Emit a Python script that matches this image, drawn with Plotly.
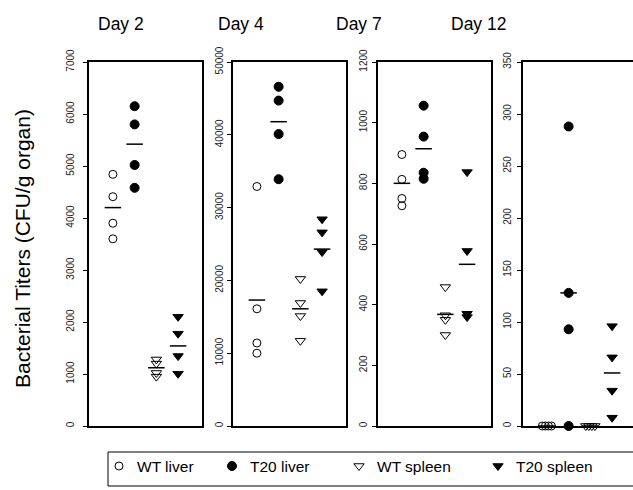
import plotly.graph_objects as go

# ---------------- data ----------------
days = ["Day 2", "Day 4", "Day 7", "Day 12"]
groups = ["WT liver", "T20 liver", "WT spleen", "T20 spleen"]

day2_wt_liver = [4840, 4410, 3900, 3600]
day2_t20_liver = [6150, 5800, 5020, 4580]
day2_wt_spleen = [1280, 1200, 1020, 950]
day2_t20_spleen = [2100, 1775, 1345, 1005]
day2_means = [4200, 5420, 1120, 1540]

day4_wt_liver = [32900, 16100, 11400, 10000]
day4_t20_liver = [46600, 44700, 40100, 33900]
day4_wt_spleen = [20200, 16900, 15100, 11700]
day4_t20_spleen = [28400, 26600, 23900, 18500]
day4_means = [17300, 41800, 16100, 24300]

day7_wt_liver = [895, 813, 750, 726]
day7_t20_liver = [1056, 954, 835, 815]
day7_wt_spleen = [458, 365, 350, 300]
day7_t20_spleen = [837, 577, 370, 359]
day7_means = [800, 914, 368, 533]

day12_wt_liver = [0, 0, 0, 0]
day12_t20_liver = [288, 128, 93, 0]
day12_wt_spleen = [0, 0, 0, 0]
day12_t20_spleen = [96, 66, 34, 8]
day12_means = [0, 128, 0, 51]

y_max = [7000, 50000, 1200, 350]
y_step = [1000, 10000, 200, 50]

panels = [
    [day2_wt_liver, day2_t20_liver, day2_wt_spleen, day2_t20_spleen],
    [day4_wt_liver, day4_t20_liver, day4_wt_spleen, day4_t20_spleen],
    [day7_wt_liver, day7_t20_liver, day7_wt_spleen, day7_t20_spleen],
    [day12_wt_liver, day12_t20_liver, day12_wt_spleen, day12_t20_spleen],
]
means = [day2_means, day4_means, day7_means, day12_means]

# ---------------- styling / layout ----------------
W, H = 633, 490
FONT = "Liberation Sans, Arial, Helvetica, sans-serif"
symbols = ["circle-open", "circle", "triangle-down-open", "triangle-down"]
sizes = [8, 9, 9, 9]
panel_left = [89, 233, 378, 523]
panel_right = [202, 346, 491, 633]
panel_top, panel_bottom = 62, 426
unit_px = 113 / 5.2
title_x = [121, 241, 359, 478]
standoff = [5, 0, 1, 2]
half_bar = 0.38


def offsets(vals):
    out = []
    for i, v in enumerate(vals):
        dup = [j for j, w in enumerate(vals) if w == v]
        n = len(dup)
        out.append((dup.index(i) - (n - 1) / 2) * 0.14)
    return out


fig = go.Figure()

for p, (pdata, pmeans) in enumerate(zip(panels, means)):
    ax = "" if p == 0 else str(p + 1)
    for g, vals in enumerate(pdata):
        xs = [g + 1 + o for o in offsets(vals)]
        fig.add_trace(go.Scatter(
            x=xs, y=vals, mode="markers", xaxis="x" + ax, yaxis="y" + ax,
            marker=dict(symbol=symbols[g], size=sizes[g], color="black",
                        line=dict(color="black", width=1)),
            cliponaxis=False, showlegend=False, hoverinfo="skip"))
    mx, my = [], []
    for g, m in enumerate(pmeans):
        mx += [g + 1 - half_bar, g + 1 + half_bar, None]
        my += [m, m, None]
    fig.add_trace(go.Scatter(
        x=mx, y=my, mode="lines", xaxis="x" + ax, yaxis="y" + ax,
        line=dict(color="black", width=1.5), cliponaxis=False,
        showlegend=False, hoverinfo="skip"))

    x0 = panel_left[p] / W
    x1 = panel_right[p] / W
    width_px = panel_right[p] - panel_left[p]
    fig.layout["xaxis" + ax] = dict(
        domain=[x0, x1], range=[-0.1, -0.1 + width_px / unit_px],
        showticklabels=False, ticks="", showgrid=False, zeroline=False,
        showline=True, mirror=True, linecolor="black", linewidth=1.5,
        automargin=False, anchor="y" + ax)
    fig.layout["yaxis" + ax] = dict(
        domain=[1 - panel_bottom / H, 1 - panel_top / H],
        range=[0, y_max[p]], tickmode="linear", tick0=0, dtick=y_step[p],
        tickformat="d", tickangle=-90, ticks="outside", ticklen=4,
        tickcolor="black", tickwidth=1, ticklabelstandoff=standoff[p],
        tickfont=dict(family=FONT, size=10, color="#222"),
        showgrid=False, zeroline=False, showline=True,
        mirror=(p != 3), linecolor="black", linewidth=1.5,
        automargin=False, anchor="x" + ax)
    fig.add_annotation(x=title_x[p], y=24, xref="x5", yref="y5",
                       text=days[p], showarrow=False,
                       font=dict(family=FONT, size=17.5, color="black"))

# overlay pixel axis for titles and legend
fig.layout["xaxis5"] = dict(domain=[0, 1], range=[0, W], visible=False,
                            automargin=False, anchor="y5")
fig.layout["yaxis5"] = dict(domain=[0, 1], range=[H, 0], visible=False,
                            automargin=False, anchor="x5")

fig.add_annotation(x=22, y=249, xref="x5", yref="y5",
                   text="Bacterial Titers (CFU/g organ)", textangle=-90,
                   showarrow=False,
                   font=dict(family=FONT, size=21, color="black"))

# legend
leg_sym_x = [119, 232, 359, 498]
leg_y = 466
fig.add_shape(type="rect", xref="x5", yref="y5", x0=108, x1=645,
              y0=452, y1=486, line=dict(color="black", width=1))
for g in range(4):
    fig.add_trace(go.Scatter(
        x=[leg_sym_x[g]], y=[leg_y], mode="markers", xaxis="x5", yaxis="y5",
        marker=dict(symbol=symbols[g], size=sizes[g], color="black",
                    line=dict(color="black", width=1)),
        showlegend=False, hoverinfo="skip", cliponaxis=False))
    fig.add_annotation(x=leg_sym_x[g] + 16, y=leg_y, xref="x5", yref="y5",
                       text=groups[g], showarrow=False, xanchor="left",
                       font=dict(family=FONT, size=15.5, color="black"))

fig.update_layout(width=W, height=H,
                  margin=dict(l=0, r=0, t=0, b=0, pad=0, autoexpand=False),
                  paper_bgcolor="white", plot_bgcolor="rgba(0,0,0,0)",
                  showlegend=False)

fig.write_html("out.html",
               config={"displayModeBar": False},
               post_script="document.body.style.margin='0';"
                           "document.body.style.overflow='hidden';")
